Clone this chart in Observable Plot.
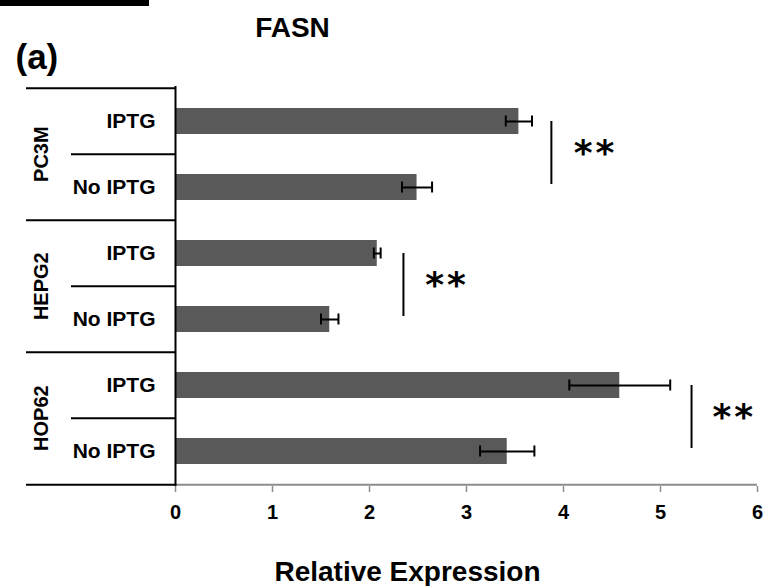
<!DOCTYPE html>
<html>
<head>
<meta charset="utf-8">
<script src="https://cdn.jsdelivr.net/npm/d3@7"></script>
<script src="https://cdn.jsdelivr.net/npm/@observablehq/plot@0.6"></script>
<style>
  body { margin: 0; background: #fff; }
  #wrap { position: relative; width: 766px; height: 586px; overflow: hidden; }
  #wrap svg { position: absolute; left: 0; top: 0; }
  #topbar { position: absolute; left: 0; top: 0; width: 149px; height: 6px; background: #000; z-index: 2; }
</style>
</head>
<body>
<div id="wrap"><div id="topbar"></div></div>
<script>
// ---- data ----
const title = "FASN";
const panelLabel = "(a)";
const xLabel = "Relative Expression";
const groups = ["PC3M", "PC3M", "HEPG2", "HEPG2", "HOP62", "HOP62"];
const conditions = ["IPTG", "No IPTG", "IPTG", "No IPTG", "IPTG", "No IPTG"];
const values = [3.54, 2.49, 2.08, 1.59, 4.58, 3.42];
const errors = [0.135, 0.155, 0.035, 0.09, 0.52, 0.28];
const xTicks = [0, 1, 2, 3, 4, 5, 6];
const sigGroups = ["PC3M", "HEPG2", "HOP62"];
const sigLineX = [3.875, 2.35, 5.32];
const sigStarX = [4.33, 2.80, 5.76];
const sigLabels = ["**", "**", "**"];

// ---- derived tables ----
const rows = groups.map((g, i) => ({
  key: g + "|" + conditions[i], group: g, condition: conditions[i],
  value: values[i], lo: values[i] - errors[i], hi: values[i] + errors[i]
}));
const keys = rows.map(d => d.key);
const condOf = new Map(rows.map(d => [d.key, d.condition]));
const groupNames = [...new Set(groups)];
const groupTopKeys = groupNames.map(g => rows.find(d => d.group === g).key);
const groupBottomKeys = groupNames.map(g => rows.filter(d => d.group === g).at(-1).key);
const sig = sigGroups.map((g, i) => ({
  top: g + "|IPTG", bottom: g + "|No IPTG",
  lineX: sigLineX[i], starX: sigStarX[i], label: sigLabels[i]
}));

// ---- layout ----
const W = 766, H = 586, mT = 86, mB = 100, mL = 175, mR = 9;
const half = (H - mT - mB) / keys.length / 2;
const font = "'Liberation Sans', Arial, Helvetica, sans-serif";
const axisGrey = "#8c8c8c";

const chart = Plot.plot({
  width: W, height: H,
  marginTop: mT, marginBottom: mB, marginLeft: mL, marginRight: mR,
  style: { fontFamily: font, color: "#000", background: "transparent", overflow: "visible" },
  x: { domain: [d3.min(xTicks), d3.max(xTicks)] },
  y: { domain: keys, paddingInner: 0.6, paddingOuter: 0.3 },
  marks: [
    // bars
    Plot.barX(rows, { x: "value", y: "key", fill: "#595959" }),
    // error bars
    Plot.ruleY(rows, { y: "key", x1: "lo", x2: "hi", stroke: "#000", strokeWidth: 2 }),
    Plot.tickX(rows, { x: "lo", y: "key", stroke: "#000", strokeWidth: 2, insetTop: 7.5, insetBottom: 7.5 }),
    Plot.tickX(rows, { x: "hi", y: "key", stroke: "#000", strokeWidth: 2, insetTop: 7.5, insetBottom: 7.5 }),
    // x axis line + ticks
    Plot.ruleY([keys.at(-1)], { dy: half, x1: d3.min(xTicks), x2: d3.max(xTicks), stroke: axisGrey, strokeWidth: 2 }),
    Plot.axisX({ ticks: xTicks, tickSize: 6, tickPadding: 12, stroke: axisGrey, strokeWidth: 1.5,
                 fontSize: 20, fontWeight: "bold", tickFormat: d3.format("d"), label: null }),
    // left category table lines
    Plot.ruleY(groupTopKeys, { dy: -half, x2: 0, insetLeft: -149, stroke: "#000", strokeWidth: 2 }),
    Plot.ruleY([keys.at(-1)], { dy: half, x2: 0, insetLeft: -149, stroke: "#000", strokeWidth: 2 }),
    Plot.ruleY(groupBottomKeys, { dy: -half, x2: 0, insetLeft: -104, stroke: "#000", strokeWidth: 2 }),
    Plot.ruleX([0], { stroke: "#000", strokeWidth: 2 }),
    // condition labels
    Plot.axisY({ tickSize: 0, tickPadding: 20, tickFormat: k => condOf.get(k),
                 fontSize: 21, fontWeight: "bold", label: null }),
    // group labels (rotated)
    Plot.text(groupNames, { text: d => d, y: (d, i) => groupBottomKeys[i], dy: -half,
                            frameAnchor: "left", dx: -134, rotate: -90, textAnchor: "middle",
                            fontSize: 20, fontWeight: "bold", fill: "#000" }),
    // significance
    Plot.ruleX(sig, { x: "lineX", y1: "top", y2: "bottom", insetTop: 13, insetBottom: 16,
                      stroke: "#000", strokeWidth: 2 }),
    Plot.text(sig, { x: "starX", y: "bottom", text: "label", dy: -half + 11, lineAnchor: "bottom",
                     textAnchor: "middle", fontFamily: "'DejaVu Sans', sans-serif",
                     fontWeight: "bold", fontSize: 36, fill: "#000" }),
    // titles
    Plot.text([title], { text: d => d, frameAnchor: "top-left", dx: 117, dy: -50,
                         lineAnchor: "bottom", textAnchor: "middle", fontSize: 28, fontWeight: "bold", fill: "#000" }),
    Plot.text([panelLabel], { text: d => d, frameAnchor: "top-left", dx: -160, dy: -18,
                              lineAnchor: "bottom", textAnchor: "start", fontSize: 35, fontWeight: "bold", fill: "#000" }),
    Plot.text([xLabel], { text: d => d, frameAnchor: "bottom-left", dx: 232, dy: 94,
                          lineAnchor: "bottom", textAnchor: "middle", fontSize: 28, fontWeight: "bold", fill: "#000" })
  ]
});

d3.select(chart).selectAll("text")
  .filter(function () { return this.textContent === "**"; })
  .attr("letter-spacing", "3px");

document.getElementById("wrap").appendChild(chart);
</script>
</body>
</html>
